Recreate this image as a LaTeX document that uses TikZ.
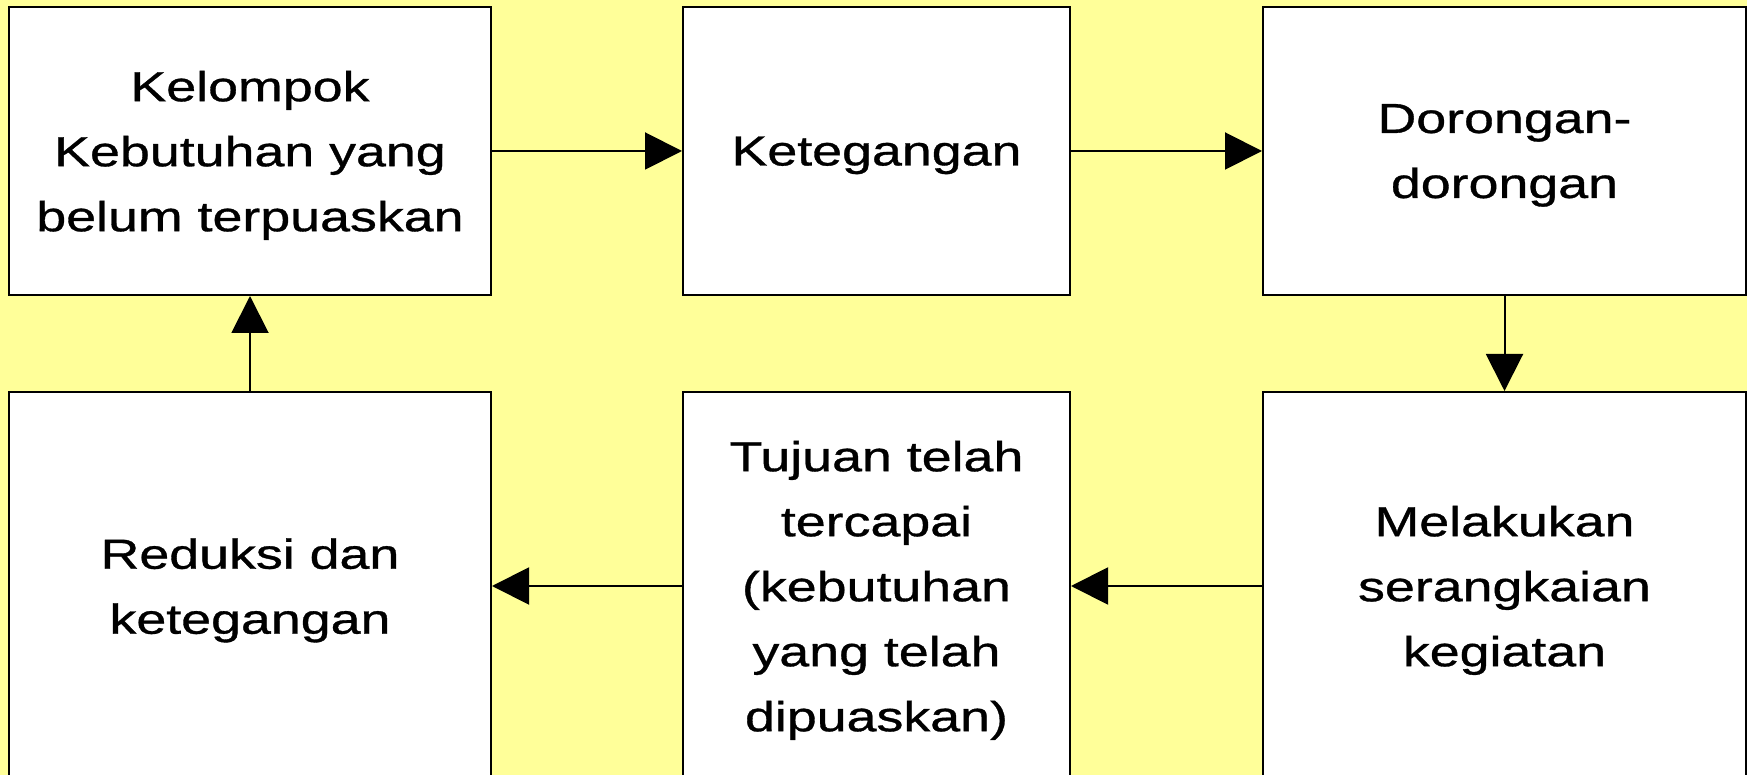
\documentclass[tikz,border=0pt]{standalone}
\usepackage{fontspec}
\setmainfont{Liberation Sans}[FakeStretch=1.28, FakeBold=0.8]
\usetikzlibrary{arrows.meta}
\definecolor{bgyellow}{HTML}{FFFF99}
\tikzset{
  stagebox/.style={draw=black, line width=1pt, fill=white, inner sep=0pt,
    align=center, text depth=0pt, font=\fontsize{21pt}{32.5pt}\selectfont},
  flow/.style={line width=1pt, -{Triangle[length=18.5pt, width=18.5pt]}}
}
\begin{document}
\begin{tikzpicture}[x=0.5pt, y=-0.5pt]
  \useasboundingbox (0,0) rectangle (1747,775);
  \clip (0,0) rectangle (1747,775);
  \fill[bgyellow] (0,0) rectangle (1747,775);

  % upper row
  \node[stagebox, minimum width=241pt, minimum height=144pt] (need) at (250,151)
    {Kelompok\\Kebutuhan yang\\belum terpuaskan};
  \node[stagebox, minimum width=193.5pt, minimum height=144pt] (tension) at (876.5,151)
    {Ketegangan};
  \node[stagebox, minimum width=241.5pt, minimum height=144pt] (drive) at (1504.5,151)
    {Dorongan-\\dorongan};

  % lower row
  \node[stagebox, minimum width=241pt, minimum height=194pt] (reduce) at (250,586)
    {Reduksi dan\\ketegangan};
  \node[stagebox, minimum width=193.5pt, minimum height=194pt] (goal) at (876.5,586)
    {Tujuan telah\\tercapai\\(kebutuhan\\yang telah\\dipuaskan)};
  \node[stagebox, minimum width=241.5pt, minimum height=194pt] (act) at (1504.5,586)
    {Melakukan\\serangkaian\\kegiatan};

  % cycle connectors
  \draw[flow] (need.east) -- (tension.west);
  \draw[flow] (tension.east) -- (drive.west);
  \draw[flow] (drive.south) -- (act.north);
  \draw[flow] (act.west) -- (goal.east);
  \draw[flow] (goal.west) -- (reduce.east);
  \draw[flow] (reduce.north) -- (need.south);
\end{tikzpicture}
\end{document}
